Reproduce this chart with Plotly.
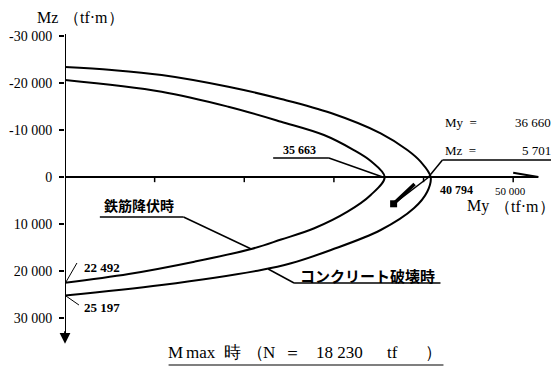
import plotly.graph_objects as go

# ---------------- data ----------------
mz_ticks = [-30000, -20000, -10000, 0, 10000, 20000, 30000]
mz_tick_labels = ["-30 000", "-20 000", "-10 000", "0", "10 000", "20 000", "30 000"]
my_ticks = [10000, 20000, 30000, 40000, 50000]

# コンクリート破壊時 (outer envelope)
conc_my = [0, 5220, 10780, 18220, 24110, 29670, 35220, 38190, 39670, 40794,
           40410, 38920, 35220, 29670, 25220, 21890, 10780, 0]
conc_mz = [-23400, -22770, -21700, -19200, -16600, -13620, -9300, -5740, -3260, 0,
           3130, 6660, 11280, 15530, 18360, 19790, 22980, 25197]

# 鉄筋降伏時 (inner envelope)
rebar_my = [0, 10780, 18220, 24110, 28890, 32220, 34110, 35663,
            34110, 31520, 27810, 24110, 20780, 14440, 7110, 0]
rebar_mz = [-20640, -18150, -14960, -11770, -8940, -5740, -3400, 0,
            3830, 7380, 10910, 13300, 15320, 18020, 20640, 22492]

# design point
point_my = [36660]
point_mz = [5701]

# ---------------- layout geometry ----------------
# page body has an 8px margin, so the figure is shrunk by 8px to fit the window
OFF = 8
W, H = 559 - OFF, 376 - OFF
PW, PH = 495, 346
L, T = 63 - OFF, 20 - OFF
R, B = W - L - PW, H - T - PH
X_RANGE = [0, 55000]
Y_RANGE = [40213, -33404]


def pxx(x):  # window pixel x -> paper
    return (x - 63) / PW


def pxy(y):  # window pixel y -> paper
    return (20 + PH - y) / PH


SERIF = "Liberation Serif"
CJK = "Noto Sans CJK JP"

fig = go.Figure()

line_style = dict(color="black", width=2, shape="spline", smoothing=1.0)
fig.add_trace(go.Scatter(x=conc_my, y=conc_mz, mode="lines", line=line_style,
                         name="コンクリート破壊時", hoverinfo="skip"))
fig.add_trace(go.Scatter(x=rebar_my, y=rebar_mz, mode="lines", line=line_style,
                         name="鉄筋降伏時", hoverinfo="skip"))

# x-axis tick marks (below the axis line)
tx, ty = [], []
for t in my_ticks:
    tx += [t, t, None]
    ty += [0, 1100, None]
fig.add_trace(go.Scatter(x=tx, y=ty, mode="lines", line=dict(color="black", width=1.5),
                         hoverinfo="skip", showlegend=False))

# design point with arrow
fig.add_trace(go.Scatter(x=[point_my[0], 40600], y=[point_mz[0], 0], mode="lines",
                         line=dict(color="black", width=1.5), hoverinfo="skip"))
fig.add_trace(go.Scatter(x=[point_my[0], 39000], y=[point_mz[0], 1500], mode="lines",
                         line=dict(color="black", width=3.5), hoverinfo="skip"))
fig.add_trace(go.Scatter(x=point_my, y=point_mz, mode="markers",
                         marker=dict(symbol="square", size=7, color="black"),
                         hoverinfo="skip"))

shapes = []
# axis lines
shapes.append(dict(type="line", xref="x", yref="y", x0=0, y0=-30400, x1=0, y1=35000,
                   line=dict(color="black", width=2)))
shapes.append(dict(type="line", xref="x", yref="y", x0=0, y0=0, x1=52800, y1=0,
                   line=dict(color="black", width=2)))
# x-axis arrow barb
shapes.append(dict(type="line", xref="x", yref="y", x0=50000, y0=-900, x1=52800, y1=0,
                   line=dict(color="black", width=2)))


def seg(p0, p1, w=1.5):
    shapes.append(dict(type="line", xref="paper", yref="paper",
                       x0=pxx(p0[0]), y0=pxy(p0[1]), x1=pxx(p1[0]), y1=pxy(p1[1]),
                       line=dict(color="black", width=w)))


# leader for design point
seg((428, 177), (442, 160))
seg((442, 160), (551, 160))
# leader for 35 663
seg((272, 158), (328, 158))
seg((328, 158), (382, 177))
# leader 鉄筋降伏時
seg((98, 217), (182, 217))
seg((182, 217), (250, 249))
# leader コンクリート破壊時
seg((293, 283), (440, 283))
seg((293, 283), (267, 269))
# leaders for 22 492 / 25 197
seg((64, 282), (75, 263), 1)
seg((64, 296), (77, 305), 1)
# caption underline
seg((167, 365), (443, 365), 1.2)

annotations = []


def text(s, x, y, size=12, anchor="center", font=SERIF, weight="normal"):
    annotations.append(dict(text=s, xref="paper", yref="paper", x=pxx(x), y=pxy(y),
                            xanchor=anchor, yanchor="middle", showarrow=False,
                            font=dict(family=font, size=size, color="black", weight=weight)))


text("Mz", 45, 18, size=16)
text("（tf·m）", 92, 18, size=16)
text("My", 478, 206, size=16)
text("（tf·m）", 525, 206, size=16)
text("50 000", 510, 191, size=11)
text("40 794", 456, 190, size=12, weight="bold")
text("My  =", 443, 122, size=13, anchor="left")
text("36 660", 553, 122, size=13, anchor="right")
text("Mz  =", 443, 150, size=13, anchor="left")
text("5 701", 553, 150, size=13, anchor="right")
text("35 663", 298, 150, size=12, weight="bold")
text("鉄筋降伏時", 137, 205, size=14, font=CJK, weight="bold")
text("コンクリート破壊時", 367, 275, size=15, font=CJK, weight="bold")
text("22 492", 100, 267, size=13, weight="bold")
text("25 197", 100, 307, size=13, weight="bold")
# caption pieces
for s, x in [("M", 174), ("max", 200), ("時", 231), ("（", 254), ("N", 268),
             ("＝", 291), ("18 230", 339), ("tf", 392), ("）", 433)]:
    text(s, x, 352, size=17)

# y-axis bottom arrow
annotations.append(dict(x=0, y=35500, xref="x", yref="y", ax=0, ay=-14, text="",
                        showarrow=True, arrowhead=2, arrowsize=1.2, arrowwidth=1.8,
                        arrowcolor="black"))

fig.update_layout(
    width=W, height=H,
    margin=dict(l=L, r=R, t=T, b=B),
    paper_bgcolor="white", plot_bgcolor="white",
    showlegend=False,
    shapes=shapes,
    annotations=annotations,
    xaxis=dict(range=X_RANGE, showgrid=False, zeroline=False, showline=False,
               showticklabels=False, ticks=""),
    yaxis=dict(range=Y_RANGE, showgrid=False, zeroline=False, showline=False,
               tickmode="array", tickvals=mz_ticks, ticktext=mz_tick_labels,
               ticks="outside", ticklen=5, tickwidth=1.5, tickcolor="black",
               ticklabelstandoff=4,
               tickfont=dict(family=SERIF, size=14, color="black")),
)

fig.write_html("out.html")
